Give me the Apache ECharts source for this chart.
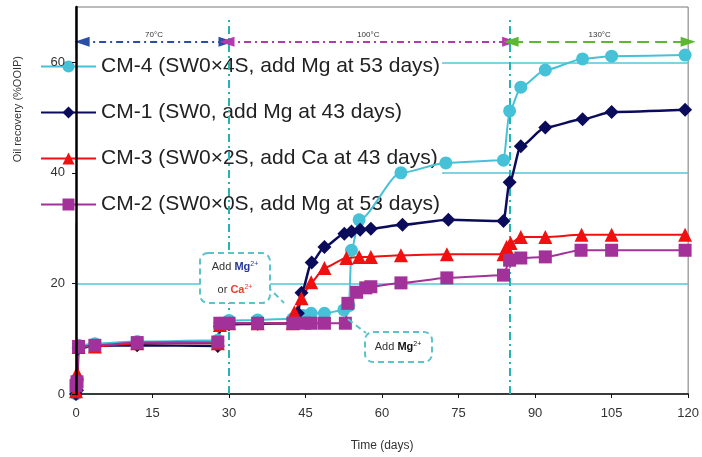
<!DOCTYPE html>
<html>
<head>
<meta charset="utf-8">
<title>Oil recovery</title>
<script src="https://cdn.jsdelivr.net/npm/echarts@6.0.0/dist/echarts.min.js"></script>
<style>
html, body { margin: 0; padding: 0; background: #fff; }
#chart { width: 702px; height: 457px; }
</style>
</head>
<body>
<div id="chart"></div>
<script>
// values (days, %OOIP)
var cm4Days   = [0, 0.2, 0.5, 3.7, 12, 27.8, 28.2, 30, 35.6, 42.5, 44.5, 46.1, 48.7, 52.5, 53.5, 54, 55.5, 63.7, 72.5, 83.8, 85, 87.2, 92, 99.3, 105, 119.4];
var cm4Values = [0, 2.5, 8.8, 9.1, 9.5, 9.7, 12.8, 13.3, 13.4, 13.6, 14.2, 14.6, 14.6, 15.2, 16, 26, 31.5, 40, 41.8, 42.3, 51.2, 55.5, 58.6, 60.6, 61.1, 61.3];

var cm1Days   = [0, 0.2, 0.5, 3.7, 12, 27.8, 28.2, 30, 35.6, 42.5, 43.5, 44.2, 46.2, 48.7, 52.6, 54, 55.7, 57.8, 64, 73, 83.8, 85, 87.2, 92, 99.3, 105, 119.4];
var cm1Values = [0, 0.7, 8.3, 8.7, 8.8, 8.7, 12.2, 12.6, 12.7, 12.8, 14.6, 18.3, 23.8, 26.6, 29, 29.4, 29.7, 29.9, 30.6, 31.5, 31.3, 38.3, 44.8, 48.2, 49.7, 51, 51.4];

var cm3Days   = [0, 0.2, 0.5, 3.7, 12, 27.8, 28.2, 30, 35.6, 42.5, 42.8, 44.2, 46.1, 48.7, 53, 55.5, 57.8, 63.7, 72.7, 83.8, 84.4, 85.2, 87.2, 92, 99.1, 105, 119.4];
var cm3Values = [0.5, 3.8, 8.5, 8.6, 9.2, 9.2, 12.5, 12.8, 12.8, 12.8, 14.8, 17.3, 20.2, 22.8, 24.6, 24.8, 24.8, 25.1, 25.3, 25.3, 26.6, 27.3, 28.4, 28.4, 28.8, 28.8, 28.8];

var cm2Days   = [0, 0.2, 0.5, 3.7, 12, 27.8, 28.2, 30, 35.6, 42.5, 44.8, 46.1, 48.7, 52.8, 53.3, 55, 56.8, 57.8, 63.7, 72.7, 83.8, 85, 87.2, 92, 99, 105, 119.4];
var cm2Values = [1.5, 2.2, 8.6, 8.8, 9.3, 9.4, 12.8, 12.8, 12.8, 12.8, 12.8, 12.8, 12.8, 12.8, 16.4, 18.4, 19.2, 19.4, 20.1, 21, 21.5, 24.2, 24.6, 24.8, 26, 26, 26];

var seriesNames = [
    'CM-4 (SW0×4S, add Mg at 53 days)',
    'CM-1 (SW0, add Mg at 43 days)',
    'CM-3 (SW0×2S, add Ca at 43 days)',
    'CM-2 (SW0×0S, add Mg at 53 days)'
];

// temperature stages: [start day, end day, label]
var stageStarts = [1.2, 29.6, 85.3];
var stageEnds   = [29.4, 85, 120];
var stageLabels = ['70°C', '100°C', '130°C'];
var stageLevel  = 63.7;

// days when brine was changed
var switchDays = [30, 85];

var xTicks = { min: 0, max: 120, interval: 15 };
var yTicks = { min: 0, max: 70, interval: 20 };

function pairs(days, values) {
    return days.map(function (d, i) { return [d, values[i]]; });
}

var FONT = 'Liberation Sans, Arial, sans-serif';
var GRIDCYAN = '#4fc8d8';
var stageColors = ['#2a4ea6', '#b23aae', '#5cb82e'];
var stageDash = [[7, 4, 2, 4], [7, 4, 2, 4], [12, 6]];

var stageLines = stageLabels.map(function (lab, i) {
    return [
        { coord: [stageStarts[i], stageLevel],
          lineStyle: { color: stageColors[i], width: 2, type: stageDash[i] },
          itemStyle: { color: stageColors[i] },
          label: { formatter: lab } },
        { coord: [stageEnds[i], stageLevel] }
    ];
});

var switchLines = switchDays.map(function (d) {
    return [{ coord: [d, 0] }, { coord: [d, 68] }];
});

function dataSeries(name, data, color, symbol, size, width) {
    return {
        name: name,
        type: 'line',
        data: data,
        z: 5,
        smooth: 0.25,
        smoothMonotone: 'x',
        symbol: symbol,
        symbolSize: size,
        showAllSymbol: true,
        lineStyle: { color: color, width: width },
        itemStyle: { color: color }
    };
}

// little dashed call-out boxes
function note(x, y, w, h) {
    return {
        type: 'rect', z: 100,
        shape: { x: x, y: y, width: w, height: h, r: 8 },
        style: { fill: '#fff', stroke: '#5cc3ca', lineWidth: 2, lineDash: [6, 4] }
    };
}
function noteText(x, y, txt, ionColor, ionWeight) {
    return {
        type: 'text', z: 101,
        x: x, y: y,
        style: {
            text: txt,
            align: 'center', verticalAlign: 'middle',
            fontFamily: FONT,
            rich: {
                a: { fontSize: 11, fill: '#333', lineHeight: 13 },
                ion: { fontSize: 11, fill: ionColor, fontWeight: ionWeight, lineHeight: 13 },
                sup: { fontSize: 7, fill: ionColor, verticalAlign: 'top', lineHeight: 13 }
            }
        }
    };
}

var chart = echarts.init(document.getElementById('chart'));
var option = {
    animation: false,
    backgroundColor: '#fff',
    textStyle: { fontFamily: FONT },
    grid: {
        left: 76, right: 12, top: 7, bottom: 63,
        show: true, borderColor: '#777', borderWidth: 1
    },
    legend: {
        data: seriesNames,
        orient: 'vertical',
        left: 40,
        top: 50,
        padding: [6, 2, 8, 0],
        itemWidth: 55,
        itemHeight: 15,
        itemGap: 25,
        backgroundColor: '#fff',
        selectedMode: false,
        textStyle: { fontSize: 21, lineHeight: 21, color: '#222' }
    },
    xAxis: {
        type: 'value',
        min: xTicks.min, max: xTicks.max, interval: xTicks.interval,
        name: 'Time (days)',
        nameLocation: 'middle',
        nameGap: 46,
        nameTextStyle: { fontSize: 12, color: '#333' },
        axisLine: { lineStyle: { color: '#111', width: 1.5 } },
        axisTick: { show: true, length: 4, lineStyle: { color: '#111' } },
        axisLabel: { fontSize: 13, color: '#333', margin: 13 },
        splitLine: { show: false }
    },
    yAxis: [
        {
            // grid lines only, sits under the legend box
            type: 'value',
            min: yTicks.min, max: yTicks.max, interval: yTicks.interval,
            axisLine: { show: false },
            axisTick: { show: false },
            axisLabel: { show: false },
            splitLine: {
                show: true, showMinLine: false, showMaxLine: false,
                lineStyle: { color: GRIDCYAN, width: 1.5, opacity: 1 }
            }
        },
        {
            type: 'value',
            min: yTicks.min, max: yTicks.max, interval: yTicks.interval,
            position: 'left',
            z: 6,
            axisLine: { show: true, lineStyle: { color: '#000', width: 2.5 } },
            axisTick: { show: true, length: 4, lineStyle: { color: '#111' } },
            axisLabel: { fontSize: 13, color: '#333', margin: 11, showMaxLabel: false },
            splitLine: { show: false }
        }
    ],
    series: [
        dataSeries(seriesNames[0], pairs(cm4Days, cm4Values), '#45c1d8', 'circle', 13, 2),
        dataSeries(seriesNames[1], pairs(cm1Days, cm1Values), '#0b0b5c', 'diamond', 14, 2.5),
        dataSeries(seriesNames[2], pairs(cm3Days, cm3Values), '#f01010', 'triangle', 14, 2),
        dataSeries(seriesNames[3], pairs(cm2Days, cm2Values), '#a23199', 'rect', 13, 2),
        {
            name: 'switch',
            type: 'line',
            data: [],
            z: 5,
            silent: true,
            markLine: {
                silent: true,
                symbol: 'none',
                label: { show: false },
                lineStyle: { color: '#25b5ae', width: 2, type: [8, 4, 2, 4] },
                data: switchLines
            }
        },
        {
            name: 'stages',
            type: 'line',
            data: [],
            z: 5,
            silent: true,
            markLine: {
                silent: true,
                symbol: ['triangle', 'triangle'],
                symbolSize: [10, 15],
                label: {
                    show: true,
                    position: 'insideMiddleTop',
                    distance: 3,
                    fontSize: 8,
                    color: '#333'
                },
                data: stageLines
            }
        }
    ],
    graphic: [
        {
            type: 'text',
            left: 12, top: 56,
            rotation: Math.PI / 2,
            style: { text: 'Oil recovery (%OOIP)', fontSize: 11, fill: '#333', fontFamily: FONT }
        },
        {
            type: 'line', z: 100,
            shape: { x1: 267, y1: 286, x2: 284, y2: 303 },
            style: { stroke: '#5cc3ca', lineWidth: 2, lineDash: [6, 4] }
        },
        note(200, 253, 70, 50),
        noteText(235, 267, '{a|Add }{ion|Mg}{sup|2+}', '#27379a', 'bold'),
        noteText(235, 290, '{a|or }{ion|Ca}{sup|2+}', '#e8402a', 'bold'),
        {
            type: 'line', z: 100,
            shape: { x1: 340, y1: 313, x2: 366, y2: 333 },
            style: { stroke: '#5cc3ca', lineWidth: 2, lineDash: [6, 4] }
        },
        note(365, 332, 67, 30),
        noteText(398, 347, '{a|Add }{ion|Mg}{sup|2+}', '#111', 'bold')
    ]
};
chart.setOption(option);
</script>
</body>
</html>
